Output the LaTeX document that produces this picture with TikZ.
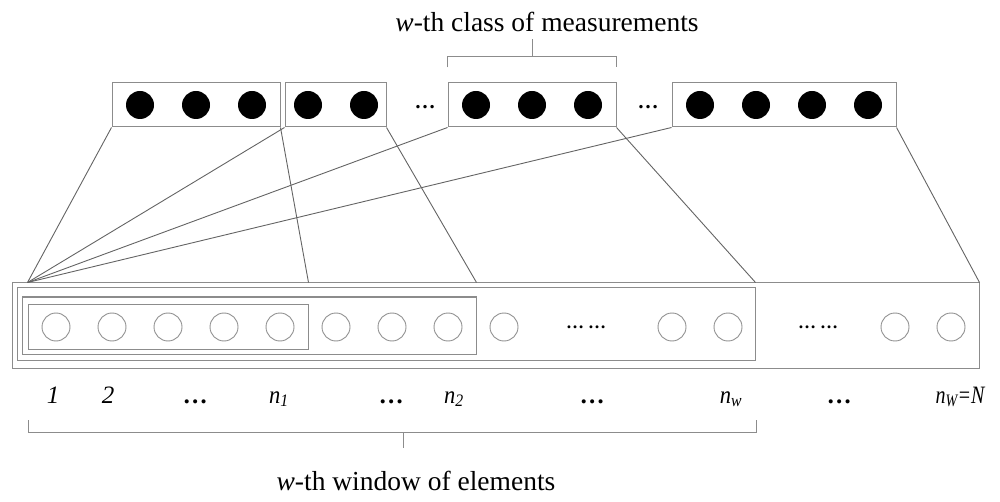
\documentclass[tikz,border=0pt]{standalone}
\usepackage{fontspec}
\setmainfont{Liberation Serif}
\definecolor{boxgray}{RGB}{140,140,140}
\definecolor{linegray}{RGB}{100,100,100}
\definecolor{circgray}{RGB}{145,145,145}
\begin{document}
\begin{tikzpicture}[x=1pt,y=-1pt,
  box/.style={draw=boxgray, line width=1pt, inner sep=0pt, minimum height=44pt},
  win/.style={draw=boxgray, line width=1pt, inner sep=0pt},
  dotf/.style={circle, fill=black, minimum size=28pt, inner sep=0pt},
  doto/.style={circle, draw=circgray, line width=0.9pt, minimum size=28pt, inner sep=0pt},
  link/.style={draw=linegray, line width=0.9pt},
  brk/.style={draw=boxgray, line width=1pt},
  lab/.style={font=\fontsize{25}{28}\selectfont\itshape, anchor=base, inner sep=0pt},
  ttl/.style={font=\fontsize{27.5}{30}\selectfont, anchor=base, inner sep=0pt},
  ellt/.style={font=\fontsize{21}{22}\selectfont\bfseries, inner sep=0pt},
  ellr/.style={font=\fontsize{18}{20}\selectfont\bfseries, inner sep=0pt}
]
\useasboundingbox (0,0) rectangle (1000,502);

% top boxes (classes of measurements)
\node[box, minimum width=168pt] (t1) at (196,105) {};
\node[box, minimum width=101pt] (t2) at (335.5,105) {};
\node[box, minimum width=168pt] (t3) at (532,105) {};
\node[box, minimum width=224pt] (t4) at (784,105) {};
\foreach \x [count=\i] in {140,196,252,308,364,476,532,588,700,756,812,868}
  \node[dotf] (f\i) at (\x,105) {};
\node[ellt] (e1) at (425,107) {…};
\node[ellt] (e2) at (648,107) {…};

% windows
\node[win, minimum width=967pt, minimum height=85pt] (outer) at (495.5,325.5) {};
\node[win, minimum width=738pt, minimum height=72pt] (ww) at (386,324) {};
\node[win, minimum width=454pt, minimum height=57pt] (w2) at (249,325.5) {};
\node[win, minimum width=280pt, minimum height=45pt] (w1) at (168,326.5) {};
\foreach \x [count=\i] in {56,112,168,224,280,336,392,448,504,672,728,895,951}
  \node[doto] (c\i) at (\x,327) {};
\node[ellr] (r1) at (586,327) {…\hspace{4pt}…};
\node[ellr] (r2) at (818,327) {…\hspace{4pt}…};

% connectors
\coordinate (apex) at (w1.west |- outer.north);
\coordinate (k1) at (w1.east |- outer.north);
\coordinate (k2) at (w2.east |- outer.north);
\coordinate (k3) at (ww.east |- outer.north);
\draw[link] (t1.south west) -- (apex);
\draw[link] (t2.south west) -- (apex);
\draw[link] (t3.south west) -- (apex);
\draw[link] (t4.south west) -- (apex);
\draw[link] (t1.south east) -- (k1);
\draw[link] (t2.south east) -- (k2);
\draw[link] (t3.south east) -- (k3);
\draw[link] (t4.south east) -- (outer.north east);

% top bracket and title
\node[ttl] (ttop) at (547,32) {\textit{w}-th class of measurements};
\coordinate (tstem) at (532,39);
\draw[brk] ([yshift=15pt]t3.north west) -- ([yshift=26pt]t3.north west)
  -- ([yshift=26pt]t3.north east) -- ([yshift=15pt]t3.north east);
\draw[brk] ([yshift=26pt]t3.north) -- (tstem);

% labels under elements
\node[lab] (l1) at (53,403) {1};
\node[lab] (l2) at (108,403) {2};
\node[lab] (l3) at (196,403) {\textbf{…}};
\node[lab] (l4) at (279,403) {\scalebox{0.9}[1]{n\textsubscript{1}}};
\node[lab] (l5) at (392,403) {\textbf{…}};
\node[lab] (l6) at (454,403) {\scalebox{0.9}[1]{n\textsubscript{2}}};
\node[lab] (l7) at (593,403) {\textbf{…}};
\node[lab] (l8) at (731,403) {\scalebox{0.9}[1]{n\textsubscript{w}}};
\node[lab] (l9) at (840,403) {\textbf{…}};
\node[lab] (l10) at (960,403) {\scalebox{0.8}[1]{n\textsubscript{W}=N}};

% bottom bracket and title
\coordinate (bl) at (28,420);
\coordinate (br) at (756,420);
\coordinate (bs) at (403,448);
\draw[brk] (bl) -- (28,432) -- (756,432) -- (br);
\draw[brk] (403,432) -- (bs);
\node[ttl] (tbot) at (416,490) {\textit{w}-th window of elements};
\end{tikzpicture}
\end{document}
